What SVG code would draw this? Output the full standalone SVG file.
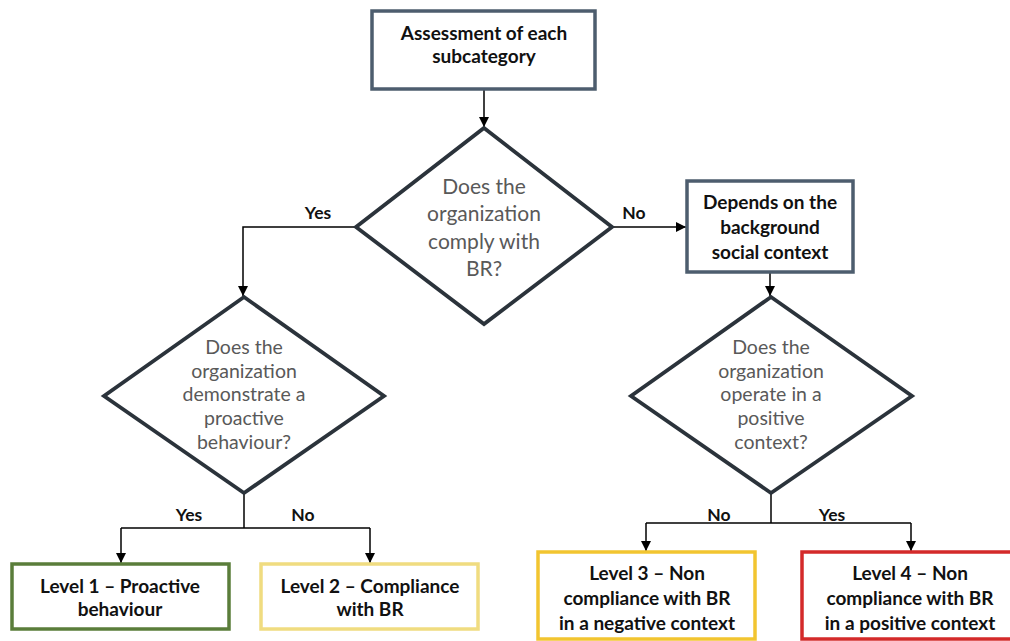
<svg xmlns="http://www.w3.org/2000/svg" width="1010" height="641" viewBox="0 0 1010 641">
<defs>
<marker id="arr" viewBox="0 0 10 10" refX="10" refY="5" markerWidth="10" markerHeight="10" markerUnits="userSpaceOnUse" orient="auto">
<path d="M0,0 L10,5 L0,10 z" fill="#000"/>
</marker>
<style>
.box{fill:#fff;stroke:#4D5D6E;stroke-width:3.5}
.dia{fill:#fff;stroke:#2B333B;stroke-width:3.8}
.bt{font-family:Lato,"Liberation Sans",sans-serif;font-weight:bold;font-size:19px;fill:#111;text-anchor:middle;dominant-baseline:central}
.dt{font-family:Lato,"Open Sans",sans-serif;font-size:21px;fill:#595959;text-anchor:middle;dominant-baseline:central}
.dt2{font-family:Lato,"Open Sans",sans-serif;font-size:19.5px;fill:#595959;text-anchor:middle;dominant-baseline:central}
.lbl{font-family:Lato,"Liberation Sans",sans-serif;font-weight:bold;font-size:17.5px;fill:#111;text-anchor:middle;dominant-baseline:central}
.con{fill:none;stroke:#000;stroke-width:1.5}
</style>
</defs>
<rect width="1010" height="641" fill="#fff"/>
<g id="connectors">
<path class="con" d="M484,89 V127" marker-end="url(#arr)"/>
<path class="con" d="M356,227 H243 V296" marker-end="url(#arr)"/>
<path class="con" d="M613,227 H686" marker-end="url(#arr)"/>
<path class="con" d="M770,272 V296" marker-end="url(#arr)"/>
<path class="con" d="M244,493 V528"/>
<path class="con" d="M121,528 H370"/>
<path class="con" d="M121,528 V563" marker-end="url(#arr)"/>
<path class="con" d="M370,528 V563" marker-end="url(#arr)"/>
<path class="con" d="M771,493 V523"/>
<path class="con" d="M646,523 H911"/>
<path class="con" d="M646,523 V551" marker-end="url(#arr)"/>
<path class="con" d="M911,523 V551" marker-end="url(#arr)"/>
<text class="lbl" x="318" y="212">Yes</text>
<text class="lbl" x="634" y="212">No</text>
<text class="lbl" x="189" y="514">Yes</text>
<text class="lbl" x="303" y="514">No</text>
<text class="lbl" x="719" y="514">No</text>
<text class="lbl" x="832" y="514">Yes</text>
</g>
<g id="start">
<rect class="box" x="372" y="11" width="223" height="78"/>
<text class="bt" x="484" y="32">Assessment of each</text>
<text class="bt" x="484" y="55">subcategory</text>
</g>
<g id="q1">
<polygon class="dia" points="484,128 612,227 484,324 356,227"/>
<text class="dt" x="484" y="185">Does the</text>
<text class="dt" x="484" y="212">organization</text>
<text class="dt" x="484" y="240">comply with</text>
<text class="dt" x="484" y="267">BR?</text>
</g>
<g id="context">
<rect class="box" x="687" y="181" width="166" height="91"/>
<text class="bt" x="770" y="201">Depends on the</text>
<text class="bt" x="770" y="226">background</text>
<text class="bt" x="770" y="251">social context</text>
</g>
<g id="q2">
<polygon class="dia" points="244,297 384,396 244,493 104,396"/>
<text class="dt2" x="244" y="346">Does the</text>
<text class="dt2" x="244" y="370">organization</text>
<text class="dt2" x="244" y="393.5">demonstrate a</text>
<text class="dt2" x="244" y="417.5">proactive</text>
<text class="dt2" x="244" y="441">behaviour?</text>
</g>
<g id="q3">
<polygon class="dia" points="771,297 912,396 771,493 631,396"/>
<text class="dt2" x="771" y="346">Does the</text>
<text class="dt2" x="771" y="370">organization</text>
<text class="dt2" x="771" y="393.5">operate in a</text>
<text class="dt2" x="771" y="417.5">positive</text>
<text class="dt2" x="771" y="441">context?</text>
</g>
<g id="level1">
<rect x="12" y="564" width="217" height="65" fill="#fff" stroke="#5A7D3A" stroke-width="3.5"/>
<text class="bt" x="120" y="585">Level 1 – Proactive</text>
<text class="bt" x="120" y="608">behaviour</text>
</g>
<g id="level2">
<rect x="261" y="564" width="217" height="65" fill="#fff" stroke="#F0DC80" stroke-width="3.5"/>
<text class="bt" x="370" y="585">Level 2 – Compliance</text>
<text class="bt" x="370" y="608">with BR</text>
</g>
<g id="level3">
<rect x="538" y="552" width="217" height="87" fill="#fff" stroke="#F2C530" stroke-width="3.5"/>
<text class="bt" x="647" y="572">Level 3 – Non</text>
<text class="bt" x="647" y="597">compliance with BR</text>
<text class="bt" x="647" y="622">in a negative context</text>
</g>
<g id="level4">
<rect x="802" y="552" width="217" height="87" fill="#fff" stroke="#D42A2A" stroke-width="3.5"/>
<text class="bt" x="910" y="572">Level 4 – Non</text>
<text class="bt" x="910" y="597">compliance with BR</text>
<text class="bt" x="910" y="622">in a positive context</text>
</g>
</svg>
